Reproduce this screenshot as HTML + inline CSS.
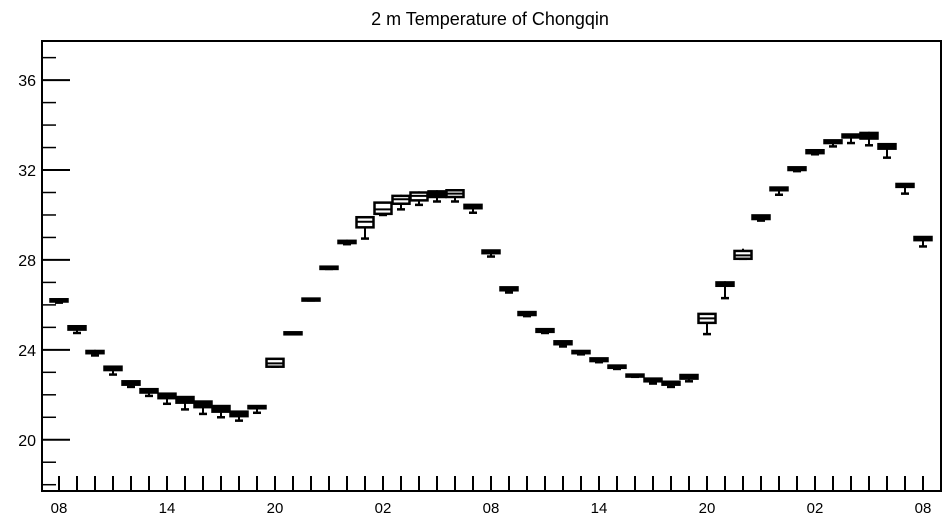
<!DOCTYPE html>
<html><head><meta charset="utf-8"><style>
html,body{margin:0;padding:0;background:#fff;}
svg{display:block;font-family:"Liberation Sans",sans-serif;}
</style></head><body>
<svg id="chart" width="947" height="520">
<text x="490" y="25" text-anchor="middle" font-size="18">2 m Temperature of Chongqin</text>
</svg>
<script>
const hours = ["08","09","10","11","12","13","14","15","16","17","18","19","20","21","22","23","00","01","02","03","04","05","06","07","08","09","10","11","12","13","14","15","16","17","18","19","20","21","22","23","00","01","02","03","04","05","06","07","08"];
const mins = [26.1,24.75,23.75,22.9,22.35,21.95,21.6,21.35,21.15,21.0,20.85,21.2,23.25,24.7,26.2,27.6,28.7,28.95,30.0,30.25,30.45,30.6,30.6,30.1,28.15,26.55,25.5,24.75,24.15,23.8,23.45,23.15,22.8,22.5,22.35,22.6,24.7,26.3,28.05,29.75,30.9,31.95,32.7,33.05,33.2,33.1,32.55,30.95,28.6];
const q1s = [26.15,24.9,23.85,23.1,22.45,22.1,21.85,21.65,21.45,21.25,21.05,21.4,23.25,24.72,26.22,27.6,28.75,29.45,30.05,30.5,30.65,30.8,30.8,30.3,28.3,26.65,25.55,24.8,24.25,23.85,23.5,23.2,22.82,22.6,22.45,22.72,25.2,26.85,28.05,29.82,31.1,32.0,32.75,33.2,33.45,33.4,32.95,31.25,28.88];
const meds = [26.2,24.97,23.9,23.15,22.5,22.15,21.92,21.75,21.55,21.35,21.1,21.45,23.4,24.75,26.25,27.65,28.8,29.7,30.25,30.7,30.85,30.95,30.95,30.38,28.35,26.7,25.6,24.85,24.3,23.9,23.55,23.25,22.85,22.65,22.5,22.8,25.4,26.92,28.2,29.9,31.15,32.05,32.8,33.25,33.5,33.55,33.05,31.3,28.95];
const q3s = [26.25,25.05,23.95,23.25,22.6,22.25,22.05,21.9,21.7,21.5,21.25,21.5,23.6,24.78,26.28,27.7,28.85,29.9,30.55,30.85,31.0,31.05,31.1,30.45,28.42,26.78,25.68,24.92,24.38,23.95,23.62,23.3,22.9,22.72,22.58,22.88,25.6,27.0,28.4,29.98,31.22,32.12,32.88,33.32,33.58,33.65,33.15,31.38,29.02];
const maxs = [26.3,25.08,24.0,23.3,22.62,22.28,22.08,21.92,21.72,21.52,21.27,21.52,23.62,24.8,26.3,27.72,28.9,29.92,30.6,30.9,31.05,31.1,31.12,30.48,28.45,26.8,25.7,24.95,24.4,23.98,23.65,23.32,22.92,22.75,22.6,22.9,25.62,27.05,28.5,30.0,31.25,32.15,32.9,33.35,33.6,33.7,33.2,31.4,29.05];
const yTicks = [20,24,28,32,36];

const NS="http://www.w3.org/2000/svg";
const svg=document.getElementById('chart');
const L=42,R=941,T=41,B=491;
const y0=17.72,y1=37.74;
const X0=59,PX_PER_HOUR=18.0;
function xs(i){return X0+i*PX_PER_HOUR;}
function ys(v){return B-(v-y0)/(y1-y0)*(B-T);}
function mk(tag,attrs){const e=document.createElementNS(NS,tag);for(const k in attrs)e.setAttribute(k,attrs[k]);svg.appendChild(e);return e;}

let f=mk('rect',{x:L,y:T,width:R-L,height:B-T,fill:'none',stroke:'#000','stroke-width':2});



for(let v=18;v<=37;v++){
  const major=yTicks.includes(v);
  const t=mk('line',{x1:L,x2:L+(major?28:14),y1:ys(v),y2:ys(v),stroke:'#000','stroke-width':major?2:1.5});
  
  
}
yTicks.forEach(v=>{
  const t=mk('text',{x:L-6,y:ys(v)+6,'text-anchor':'end','font-size':16});
  t.textContent=v;
  
  
});

hours.forEach((h,i)=>{
  const x=xs(i);
  const t=mk('line',{x1:x,x2:x,y1:B,y2:B-15,stroke:'#000','stroke-width':2});
  
  
  if(i%6===0){
    const lb=mk('text',{x:x,y:B+22,'text-anchor':'middle','font-size':15});
    lb.textContent=h;
    
    
  }
});

const W=17;
hours.forEach((h,i)=>{
  const x=xs(i);
  const g=document.createElementNS(NS,'g');
  
  
  svg.appendChild(g);
  const add=(tag,a)=>{const e=document.createElementNS(NS,tag);for(const k in a)e.setAttribute(k,a[k]);g.appendChild(e);return e;};
  const top=ys(q3s[i]),bot=ys(q1s[i]);
  const ymin=ys(mins[i]),ymax=ys(maxs[i]);
  if(ymin>bot+1) add('line',{x1:x,x2:x,y1:bot,y2:ymin,stroke:'#000','stroke-width':2});
  add('line',{x1:x-4,x2:x+4,y1:ymin,y2:ymin,stroke:'#000','stroke-width':2.5});
  if(ymax<top-1) add('line',{x1:x,x2:x,y1:top,y2:ymax,stroke:'#000','stroke-width':2});
  const hgt=Math.max(bot-top,2);
  add('rect',{x:x-W/2,y:top,width:W,height:hgt,fill:hgt<6?'#000':'#fff',stroke:'#000','stroke-width':2.5});
  add('line',{x1:x-W/2,x2:x+W/2,y1:ys(meds[i]),y2:ys(meds[i]),stroke:'#000','stroke-width':2});
});
</script>
</body></html>
